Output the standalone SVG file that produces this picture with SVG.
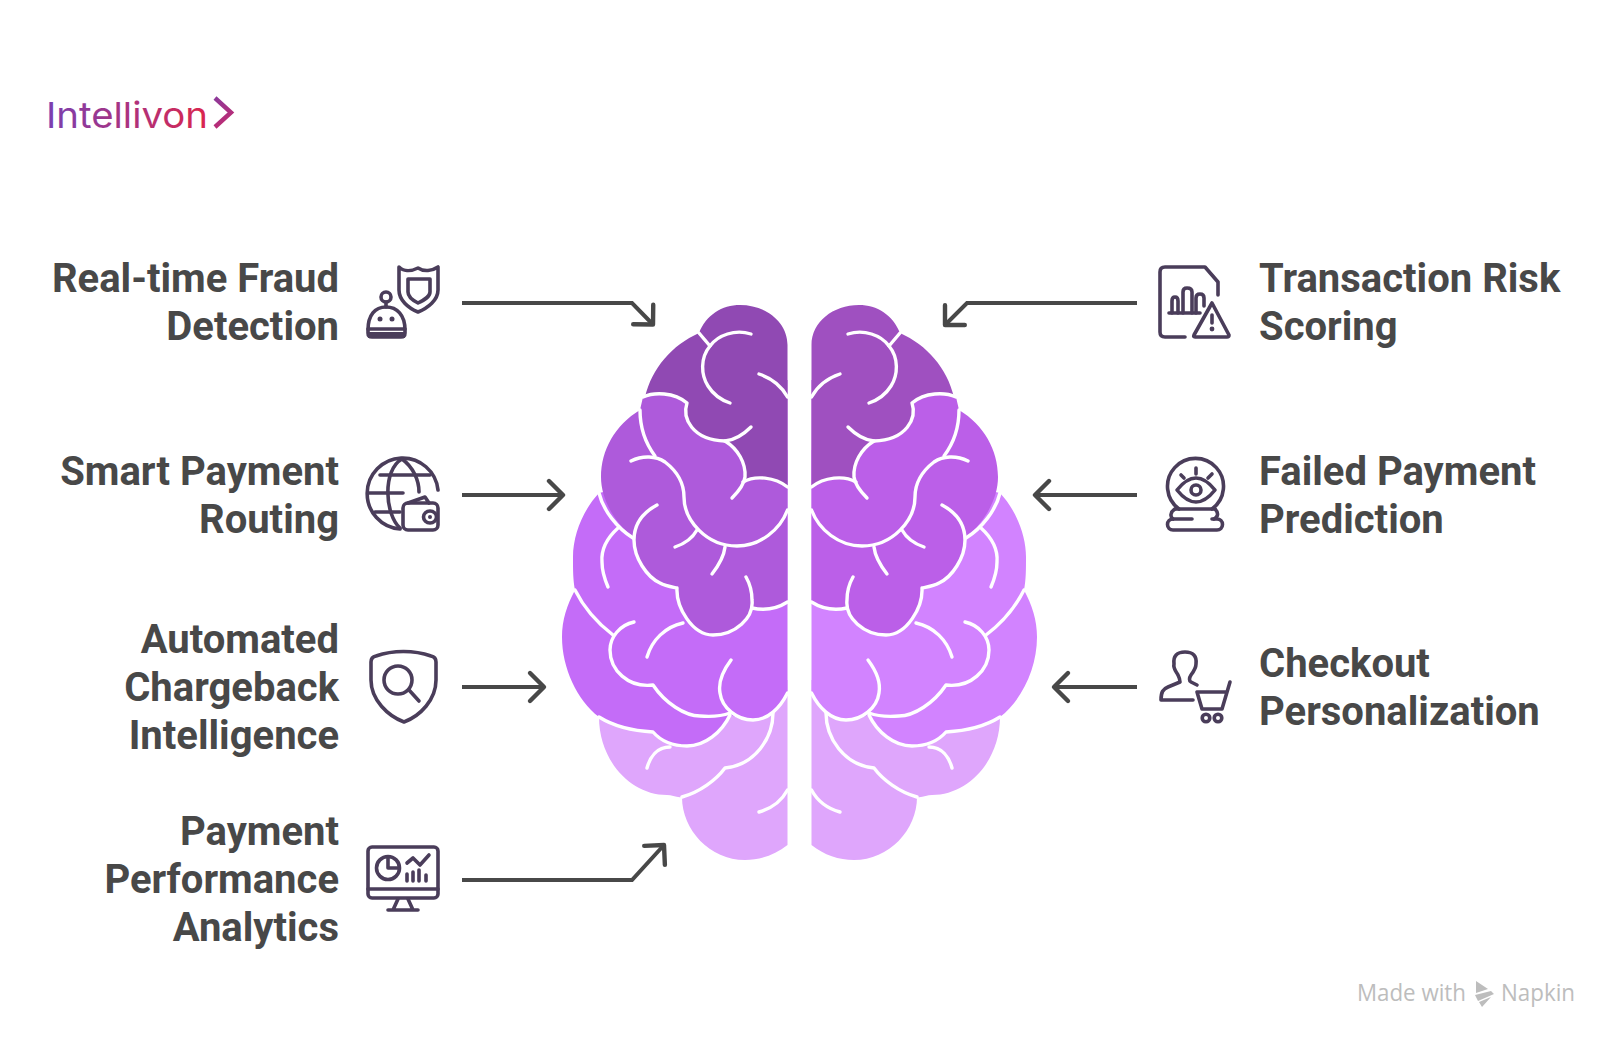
<svg xmlns="http://www.w3.org/2000/svg" width="1623" height="1047" viewBox="0 0 1623 1047">
<style>
text{font-family:"Roboto","Liberation Sans",sans-serif}
.lbl{font-size:40px;font-weight:700;fill:#484848}
.end{text-anchor:end}
.ic{fill:none;stroke:#4a3d5a;stroke-width:3.6;stroke-linecap:round;stroke-linejoin:round}
.icf{fill:#4a3d5a}
.wire{fill:none;stroke:#484848;stroke-width:4;marker-end:url(#head)}
.vein{fill:none;stroke:#fff;stroke-width:3.4;stroke-linecap:round;stroke-linejoin:round}
.foot{font-size:24px;fill:#bdbdbd;font-family:"Open Sans","Liberation Sans",sans-serif}
</style>
<defs>
<marker id="head" markerUnits="userSpaceOnUse" markerWidth="40" markerHeight="40" refX="20" refY="20" orient="auto" viewBox="0 0 40 40"><path d="M6,6 L20,20 L6,34" fill="none" stroke="#484848" stroke-width="4.4" stroke-linecap="round" stroke-linejoin="round"/></marker>
<linearGradient id="logo" gradientUnits="userSpaceOnUse" x1="47" y1="0" x2="205" y2="0"><stop offset="0" stop-color="#7a3fb0"/><stop offset="1" stop-color="#d9264f"/></linearGradient>
<linearGradient id="chev" gradientUnits="userSpaceOnUse" x1="214" y1="97" x2="233" y2="128"><stop offset="0" stop-color="#8b3a9c"/><stop offset="1" stop-color="#c8286a"/></linearGradient>
<path id="lobeD" d="M787.5,680 V845 C775,855 760,860 745,860 C710,860 682,830 682,797 C677,798 672,795 667,795 C630,795 599,760 599,717 L700,690 Z"/>
<path id="lobeC" d="M599,493 C583,510 573,535 573,557 C573,570 573,580 575,590 C567,605 562,620 562,637 C562,668 577,700 599,717 C615,727 635,731 653,732 C660,740 672,746 687,746 C705,746 722,732 730,715 C738,718 745,720 753,720 C768,720 780,708 787.5,693 V450 Z"/>
<path id="lobeB" d="M640,410 C615,425 601,450 601,477 C601,500 615,522 633,538 C634,555 645,575 660,583 C665,586 672,587 677,588 C676,607 692,635 713,635 C730,635 745,625 752,608 C765,611 778,608 787.500,602 V380 L680,385 L660,392 L643,397 Z"/>
<path id="lobeA" d="M787.5,345 C787.5,322 766,305 740,305 C722,305 706,315 699,333 C672,345 652,368 645,397 C654,392 674,392 687,403 C682,418 692,440 725,441 C738,449 746,463 745,477 L743,482 C755,475 775,477 787.5,487 Z"/>
<g id="veins" class="vein">
<path d="M699,333 L710,346"/>
<path d="M751,334 C735,329 718,335 710,346 C700,358 701,375 708,386 C713,394 721,400 730,403"/>
<path d="M759,374 C771,378 781,385 787.5,397"/>
<path d="M643,397 C654,392 674,392 687,403 C682,418 692,440 725,441 C738,449 746,463 745,477 C744,485 738,492 732,498"/>
<path d="M725,441 C736,440 744,434 751,427"/>
<path d="M640,410 C640,428 646,444 655,456"/>
<path d="M631,461 C643,455 656,456 665,462 C678,472 684,485 684,497 C684,520 706,546 737,546 C760,546 780,530 787.5,510"/>
<path d="M743,482 C755,475 775,477 787.5,487"/>
<path d="M599,493 C603,510 617,528 633,538"/>
<path d="M657,505 C642,513 634,525 634,540 C634,558 647,577 660,583 C665,586 672,587 677,588 C676,607 692,635 713,635 C735,635 754,618 752,600 C752,590 750,584 746,577"/>
<path d="M752,608 C765,611 778,608 787.5,602"/>
<path d="M675,547 C684,544 692,539 697,530"/>
<path d="M725,547 C724,556 719,565 712,574"/>
<path d="M618,528 C607,538 601,550 602,562 C602,572 605,580 608,587"/>
<path d="M575,590 C583,606 596,622 613,635"/>
<path d="M634,622 C620,625 610,637 610,650 C610,670 628,688 653,685 C665,703 685,716 700,716 C712,717 722,716 730,713"/>
<path d="M683,623 C665,627 652,640 647,657"/>
<path d="M731,660 C722,672 718,682 720,693 C722,708 737,720 753,720 C768,720 780,708 787.5,693"/>
<path d="M599,717 C615,727 635,731 653,732 C660,740 672,746 687,746 C705,746 722,732 730,715"/>
<path d="M670,747 C657,747 650,757 647,768"/>
<path d="M773,713 C773,738 755,765 725,768 C716,780 700,792 682,797"/>
<path d="M759,812 C770,809 781,802 787.5,790"/>
</g>
</defs>

<g id="logo-mark">
<text x="46" y="128" font-size="36" font-weight="400" fill="url(#logo)" style="font-family:Inter,'Liberation Sans',sans-serif" textLength="162" lengthAdjust="spacingAndGlyphs">Intellivon</text>
<path d="M215,98 L231,112.500 L215,127" fill="none" stroke="url(#chev)" stroke-width="4.400"/>
</g>

<g id="brain">
<g id="brain-left">
<use href="#lobeD" fill="#dfa6fc"/>
<use href="#lobeC" fill="#c46cf8"/>
<use href="#lobeB" fill="#ae5adb"/>
<use href="#lobeA" fill="#9049b3"/>
<use href="#veins"/>
</g>
<g id="brain-right" transform="translate(1599,0) scale(-1,1)">
<use href="#lobeD" fill="#dfa6fc"/>
<use href="#lobeC" fill="#d283ff"/>
<use href="#lobeB" fill="#bb5fe8"/>
<use href="#lobeA" fill="#9f50c0"/>
<use href="#veins"/>
</g>
</g>

<g id="connectors">
<polyline class="wire" points="462,303 632,303 653,324.500"/>
<polyline class="wire" points="462,495 563,495"/>
<polyline class="wire" points="462,687 544,687"/>
<polyline class="wire" points="462,880 632,880 664,845"/>
<polyline class="wire" points="1137,303 967,303 945,325"/>
<polyline class="wire" points="1137,495 1035,495"/>
<polyline class="wire" points="1137,687 1054,687"/>
</g>

<g id="node-fraud">
<text class="lbl end" x="339" y="292">Real-time Fraud</text>
<text class="lbl end" x="339" y="340">Detection</text>
<g class="ic">
<path d="M399,267 C403,271 410,272 418,268 C424,272 432,271 438,267 V290 C438,300 428,308 418,312 C408,308 399,300 399,290 Z"/>
<path d="M408,279 H430 V292 C430,297 424,300 418,303 C412,300 408,297 408,292 Z"/>
<circle cx="386" cy="297" r="5"/>
<path d="M386,302 V307"/>
<path d="M368,330 C368,315 375,307 386,307 C397,307 405,315 405,330 V333 Q405,337 401,337 H372 Q368,337 368,333 Z"/>
<path d="M368,329 H405"/>
</g>
<g class="icf"><circle cx="380" cy="319" r="2.500"/><circle cx="392" cy="319" r="2.500"/><rect x="368" y="332" width="37" height="6"/></g>
</g>

<g id="node-routing">
<text class="lbl end" x="339" y="485">Smart Payment</text>
<text class="lbl end" x="339" y="533">Routing</text>
<g class="ic">
<path d="M438,490 A35.500,35.500 0 1 0 400,529"/>
<path d="M402,459 C382,470 385,515 400,528"/>
<path d="M402,459 C413,467 419,480 419,492"/>
<path d="M380,475 H430 M368,493 H403 M375,512 H400"/>
<rect x="403" y="503" width="35" height="27" rx="5"/>
<path d="M408,503 L425,497 L429,503"/>
<ellipse cx="430" cy="517" rx="6.500" ry="6"/>
</g>
<circle class="icf" cx="430" cy="517" r="2"/>
</g>

<g id="node-chargeback">
<text class="lbl end" x="339" y="653">Automated</text>
<text class="lbl end" x="339" y="701">Chargeback</text>
<text class="lbl end" x="339" y="749">Intelligence</text>
<g class="ic">
<path d="M371,662 Q371,657 376,656 C393,650 414,650 431,656 Q436,657 436,662 V680 C436,700 420,716 404,722 C388,716 371,700 371,680 Z"/>
<circle cx="398" cy="680" r="14"/>
<path d="M409,690 L419,701"/>
</g>
</g>

<g id="node-analytics">
<text class="lbl end" x="339" y="845">Payment</text>
<text class="lbl end" x="339" y="893">Performance</text>
<text class="lbl end" x="339" y="941">Analytics</text>
<g class="ic">
<rect x="368" y="847" width="70" height="51" rx="4"/>
<path d="M368,889 H438"/>
<path d="M398,899 L393,910 M408,899 L413,910 M388,910 H418"/>
<circle cx="388" cy="868" r="11.500"/>
<path d="M388,868 V857 M388,868 H399"/>
<path d="M407,863 L413,858 L420,865 L429,855"/>
<path d="M407,874 V881 M413,872 V881 M419,870 V881 M426,875 V881"/>
</g>
</g>

<g id="node-risk">
<text class="lbl" x="1259" y="292">Transaction Risk</text>
<text class="lbl" x="1259" y="340">Scoring</text>
<g class="ic">
<path d="M1185,337 H1165 Q1160,337 1160,332 V272 Q1160,267 1165,267 H1205 L1218,282 V295"/>
<path d="M1169,313 H1200"/>
<path d="M1172,313 V301 Q1172,297 1175,297 Q1178,297 1178,301 V313 M1183,313 V292 Q1183,288 1187,288 Q1192,288 1192,292 V313 M1196,313 V298 Q1196,294 1200,294 Q1204,294 1204,298 V306"/>
<path d="M1212,303 L1229,335 Q1229,337 1227,337 H1195 Q1193,337 1194,335 Z"/>
<path d="M1212,315 V323"/>
</g>
<circle class="icf" cx="1212" cy="329" r="2.400"/>
</g>

<g id="node-failed">
<text class="lbl" x="1259" y="485">Failed Payment</text>
<text class="lbl" x="1259" y="533">Prediction</text>
<g class="ic">
<path d="M1179,509 A28,28 0 1 1 1212,509"/>
<path d="M1177,490 Q1196,466 1215,490 Q1196,514 1177,490 Z"/>
<circle cx="1196" cy="490" r="5"/>
<path d="M1196,468 V474 M1181,475 L1184,478 M1212,474 L1208,478"/>
<path d="M1175,509 H1215"/>
<path d="M1175,509 C1170,512 1170,517 1173,519 M1215,509 C1219,513 1218,517 1214,519"/>
<path d="M1192,519 H1173 A5.500,5.500 0 0 0 1173,530 H1217 A5.500,5.500 0 0 0 1217,519 H1212"/>
</g>
</g>

<g id="node-checkout">
<text class="lbl" x="1259" y="677">Checkout</text>
<text class="lbl" x="1259" y="725">Personalization</text>
<g class="ic">
<path d="M1193,700 H1161 C1161,692 1163,689 1168,687 L1180,682 C1180,679 1179,677 1178,675 C1175,670 1173,668 1174,664 C1173,656 1177,652 1185,652 C1193,652 1197,656 1196,664 C1196,668 1194,671 1191,675 C1189,678 1189,681 1191,682 L1197,685"/>
<path d="M1230,682 L1222,709 H1202 L1197,692 H1227"/>
<circle cx="1206" cy="718" r="3.800"/><circle cx="1218" cy="718" r="3.800"/>
</g>
</g>

<g id="watermark">
<text class="foot" x="1363" y="1004" transform="translate(-6,-3)" textLength="109" lengthAdjust="spacingAndGlyphs">Made with</text>
<text class="foot" x="1508" y="1004" transform="translate(-7,-3)" textLength="74" lengthAdjust="spacingAndGlyphs">Napkin</text>
<path fill="#bdbdbd" transform="translate(-6,-1)" d="M1482,982 L1494,990 L1482,994 Z M1481,996 L1497,992 L1500,995 L1484,1002 Z M1485,1003 L1497,998 L1488,1008 Z"/>
</g>
</svg>
